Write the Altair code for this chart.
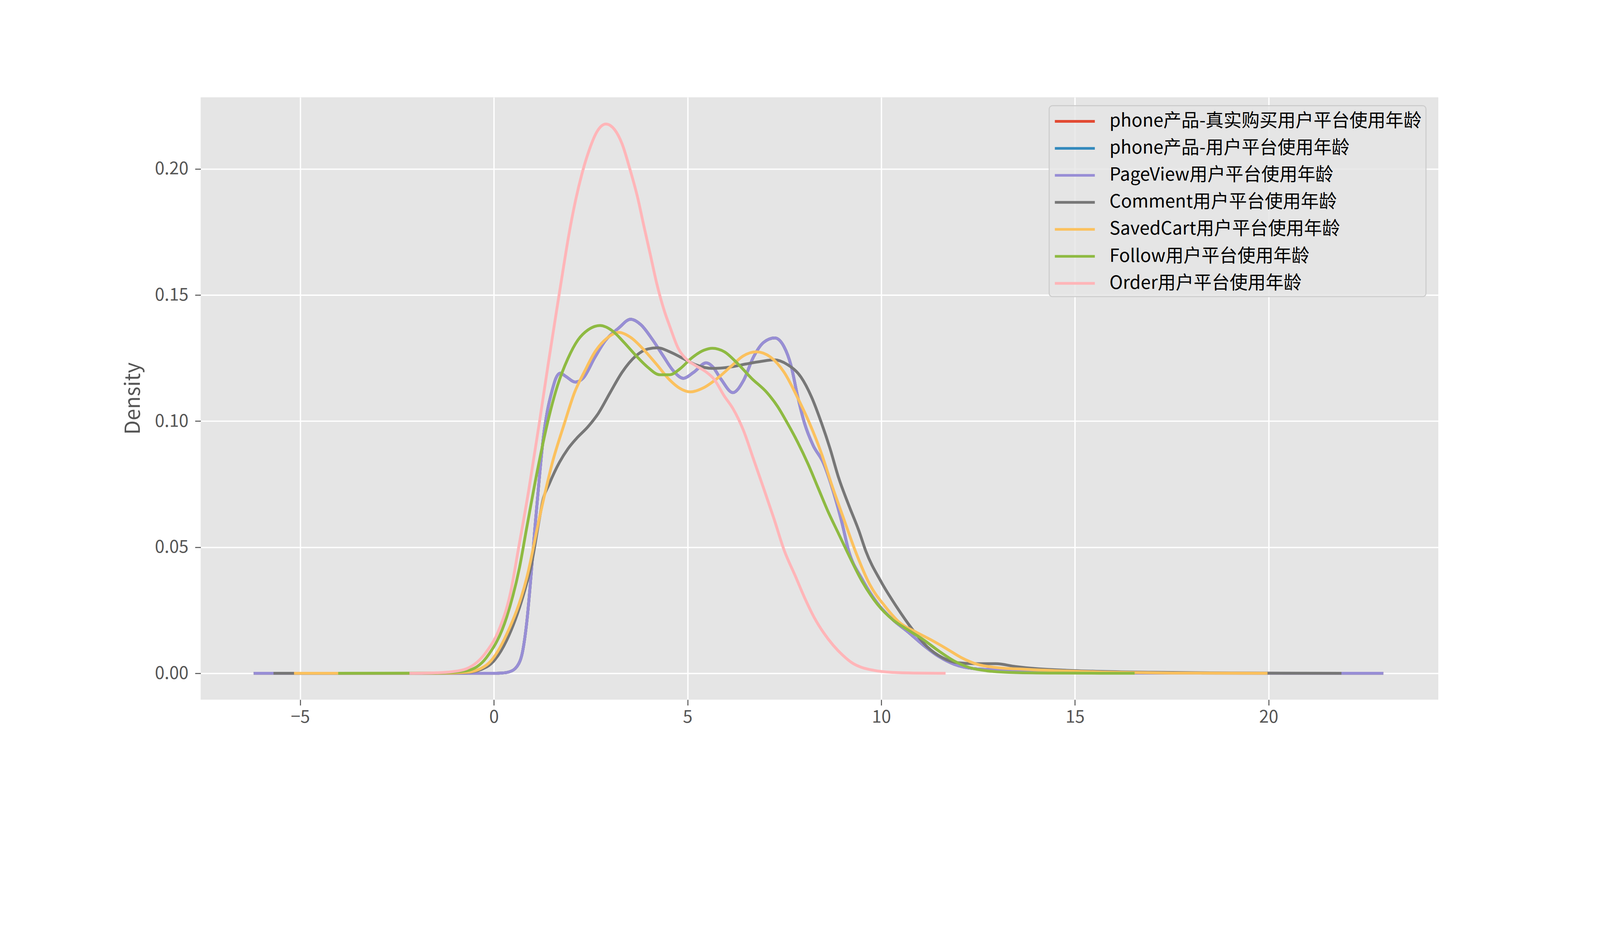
import altair as alt
import pandas as pd

names = [
    "phone产品-真实购买用户平台使用年龄",
    "phone产品-用户平台使用年龄",
    "PageView用户平台使用年龄",
    "Comment用户平台使用年龄",
    "SavedCart用户平台使用年龄",
    "Follow用户平台使用年龄",
    "Order用户平台使用年龄",
]
colors = ["#E24A33", "#348ABD", "#988ED5", "#777777", "#FBC15E", "#8EBA42", "#FFB5B8"]

x_ticks = [-5, 0, 5, 10, 15, 20]
y_ticks = [0.0, 0.05, 0.10, 0.15, 0.20]

# PageView (also underlies the two phone series, which are hidden beneath it)
pv_x = [-6.2, 0.0, 0.2, 0.4, 0.6, 0.75, 0.85, 0.96, 1.06, 1.17, 1.28, 1.38, 1.50, 1.60, 1.71,
        1.86, 2.10, 2.30, 2.61, 2.87, 3.22, 3.53, 3.79, 4.10, 4.36, 4.63, 4.89, 5.16, 5.48,
        5.64, 5.86, 6.17, 6.44, 6.70, 6.96, 7.25, 7.49, 7.67, 7.84, 8.02, 8.24, 8.50, 8.76,
        8.98, 9.16, 9.50, 9.90, 10.30, 10.69, 11.09, 11.48, 11.88, 12.37, 12.96, 13.95, 14.78,
        16.0, 22.96]
pv_y = [0, 0, 0.0001, 0.0006, 0.0028, 0.0094, 0.0205, 0.039, 0.058, 0.077, 0.094, 0.104, 0.112,
        0.1170, 0.1190, 0.1177, 0.1155, 0.1170, 0.1254, 0.1318, 0.1369, 0.1404, 0.1383, 0.1322,
        0.1261, 0.1200, 0.1170, 0.1194, 0.1231, 0.1217, 0.1167, 0.1113, 0.1160, 0.1254, 0.1312,
        0.1330, 0.1295, 0.1221, 0.1099, 0.0991, 0.0904, 0.0836, 0.0721, 0.0600, 0.0485, 0.0375,
        0.0278, 0.0212, 0.0164, 0.0111, 0.0067, 0.0036, 0.0019, 0.0014, 0.0010, 0.0005, 0.0001, 0]

cm_x = [-5.69, -1.5, -0.71, -0.19, 0.33, 0.85, 0.96, 1.16, 1.27, 1.42, 1.69, 1.91, 2.13, 2.43,
        2.70, 3.00, 3.31, 3.66, 3.97, 4.23, 4.54, 4.89, 5.20, 5.64, 6.08, 6.52, 6.90, 7.23, 7.58,
        7.93, 8.19, 8.46, 8.68, 8.90, 9.16, 9.42, 9.60, 10.0, 10.39, 10.79, 11.18, 11.58, 11.97,
        12.47, 12.96, 13.46, 13.95, 14.78, 15.55, 17.0, 19.0, 21.88]
cm_y = [0, 0, 0.0003, 0.0025, 0.0131, 0.0359, 0.0425, 0.060, 0.069, 0.0748, 0.0836, 0.0890,
        0.0931, 0.0978, 0.1032, 0.1113, 0.1194, 0.1258, 0.1286, 0.1291, 0.1275, 0.1248, 0.1224,
        0.1209, 0.1214, 0.1227, 0.1237, 0.1243, 0.1224, 0.1174, 0.1099, 0.0991, 0.0890, 0.0775,
        0.0667, 0.0566, 0.0485, 0.0362, 0.0265, 0.0177, 0.0106, 0.0062, 0.0042, 0.0038, 0.0038,
        0.0027, 0.0019, 0.0012, 0.0008, 0.0004, 0.0001, 0]

sc_x = [-5.16, -1.5, -0.71, -0.19, 0.33, 0.85, 1.20, 1.51, 1.82, 2.08, 2.35, 2.61, 2.92, 3.22,
        3.53, 3.84, 4.19, 4.54, 4.80, 5.07, 5.42, 5.77, 6.12, 6.43, 6.77, 7.14, 7.49, 7.84, 8.15,
        8.46, 8.72, 9.03, 9.33, 9.70, 10.10, 10.49, 10.89, 11.28, 11.68, 12.07, 12.47, 12.96,
        13.70, 14.78, 15.7, 17.5, 19.97]
sc_y = [0, 0, 0.0004, 0.0033, 0.0155, 0.038, 0.0634, 0.0836, 0.0991, 0.1113, 0.1200, 0.1275,
        0.1329, 0.1352, 0.1332, 0.1288, 0.1227, 0.1163, 0.1130, 0.1116, 0.1133, 0.1170, 0.1217,
        0.1258, 0.1275, 0.1254, 0.1194, 0.1093, 0.0991, 0.0870, 0.0748, 0.0613, 0.0485, 0.0353,
        0.0265, 0.0199, 0.0164, 0.0133, 0.0098, 0.0062, 0.0036, 0.0023, 0.0016, 0.0009, 0.0005,
        0.0001, 0]

fo_x = [-4.02, -1.5, -0.71, -0.19, 0.33, 0.66, 0.85, 1.12, 1.38, 1.64, 1.91, 2.17, 2.43, 2.74,
        3.05, 3.36, 3.66, 3.97, 4.28, 4.54, 4.80, 5.11, 5.42, 5.64, 5.95, 6.30, 6.65, 7.05, 7.32,
        7.58, 7.84, 8.11, 8.37, 8.63, 8.90, 9.11, 9.50, 9.90, 10.30, 10.69, 11.09, 11.48, 11.88,
        12.27, 12.72, 13.46, 14.5, 16.54]
fo_y = [0, 0.0001, 0.0010, 0.0063, 0.0223, 0.0419, 0.058, 0.0802, 0.0991, 0.1140, 0.1248,
        0.1322, 0.1362, 0.1379, 0.1359, 0.1312, 0.1261, 0.1214, 0.1184, 0.1184, 0.1207, 0.1251,
        0.1281, 0.1289, 0.1275, 0.1227, 0.1170, 0.1113, 0.1059, 0.0991, 0.0917, 0.0830, 0.0735,
        0.0640, 0.0553, 0.0485, 0.0366, 0.0274, 0.0212, 0.0172, 0.0133, 0.0089, 0.0049, 0.0023,
        0.0010, 0.0003, 0.0001, 0]

od_x = [-2.18, -1.5, -1.1, -0.71, -0.19, 0.12, 0.43, 0.64, 0.90, 1.18, 1.40, 1.63, 1.77, 1.93,
        2.10, 2.28, 2.46, 2.65, 2.89, 3.12, 3.31, 3.51, 3.71, 3.87, 4.04, 4.20, 4.40, 4.54, 4.76,
        4.98, 5.20, 5.46, 5.68, 5.95, 6.17, 6.44, 6.70, 6.96, 7.23, 7.50, 7.775, 8.02, 8.27, 8.52,
        8.76, 9.01, 9.26, 9.50, 9.80, 10.25, 10.9, 11.66]
od_y = [0, 0.0002, 0.0006, 0.0018, 0.0086, 0.0169, 0.0321, 0.0500, 0.0727, 0.1000, 0.1225,
        0.1450, 0.1585, 0.1735, 0.1870, 0.1985, 0.2075, 0.2145, 0.2178, 0.2155, 0.2099, 0.2000,
        0.1887, 0.1775, 0.1659, 0.1548, 0.1437, 0.1376, 0.1288, 0.1244, 0.1221, 0.1197, 0.1167,
        0.1099, 0.1050, 0.0964, 0.0850, 0.0735, 0.0613, 0.0485, 0.0388, 0.0300, 0.0221, 0.0159,
        0.0111, 0.0071, 0.0040, 0.0023, 0.0012, 0.0004, 0.0001, 0]

series = [
    (names[0], pv_x, pv_y),
    (names[1], pv_x, pv_y),
    (names[2], pv_x, pv_y),
    (names[3], cm_x, cm_y),
    (names[4], sc_x, sc_y),
    (names[5], fo_x, fo_y),
    (names[6], od_x, od_y),
]

FONT = "Noto Sans CJK SC"

x_enc = alt.X(
    "x:Q",
    scale=alt.Scale(domain=[-7.57, 24.38], nice=False, zero=False),
    axis=alt.Axis(
        values=x_ticks, title=None, labelFont=FONT, labelFontSize=52, labelColor="#555555",
        tickColor="#555555", tickSize=17, tickWidth=3, labelPadding=10, domain=False,
        grid=True, gridColor="white", gridWidth=4, labelFlush=False,
    ),
)
y_enc = alt.Y(
    "y:Q",
    scale=alt.Scale(domain=[-0.01045, 0.2284], nice=False, zero=False),
    axis=alt.Axis(
        values=y_ticks, format=".2f", title="Density", labelFont=FONT, labelFontSize=52,
        labelColor="#555555", tickColor="#555555", tickSize=17, tickWidth=3, labelPadding=20,
        domain=False, grid=True, gridColor="white", gridWidth=4, labelFlush=False,
        titleFont=FONT, titleFontSize=62, titleColor="#555555", titleFontWeight="normal",
        titleX=-202, titleY=903, titleAngle=270, titleAlign="center", titleBaseline="middle",
    ),
)
color_enc = alt.Color(
    "s:N",
    scale=alt.Scale(domain=names, range=colors),
    legend=alt.Legend(
        title=None, orient="none", legendX=2547, legendY=25,
        labelFont=FONT, labelFontSize=54, labelColor="#000000", labelLimit=3000,
        symbolType="M-1,0H3", symbolSize=3600, symbolStrokeWidth=8,
        labelOffset=100, rowPadding=20,
    ),
)

layers = []
for name, xs, ys in series:
    df = pd.DataFrame({"x": xs, "y": ys, "s": [name] * len(xs)})
    layers.append(
        alt.Chart(df).mark_line(strokeWidth=8.5, interpolate="monotone", clip=True).encode(
            x=x_enc, y=y_enc, color=color_enc, order="x:Q"
        )
    )

chart = alt.layer(*layers).properties(
    width=4784,
    height=2384,
    autosize=alt.AutoSizeParams(type="fit", contains="padding"),
    padding={"left": 360, "top": 77, "right": 476, "bottom": 422},
    background="white",
).configure_view(
    fill="#E5E5E5", stroke=None
).configure_legend(
    padding=13, fillColor="rgba(229,229,229,0.8)", strokeColor="#CCCCCC",
    cornerRadius=10, strokeWidth=3,
)

chart.save("out.html", embed_options={"renderer": "svg", "actions": False})
